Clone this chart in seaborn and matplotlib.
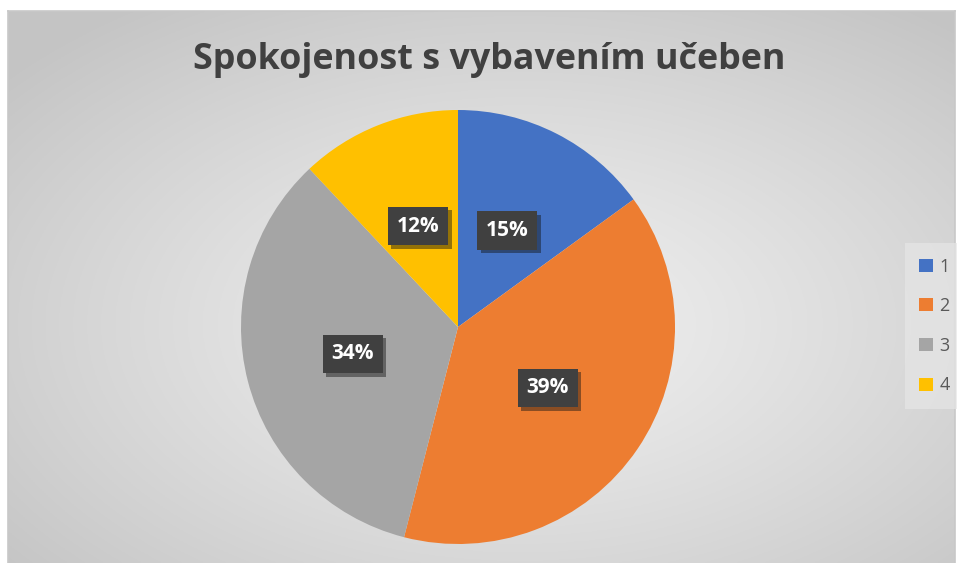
import numpy as np
import matplotlib
matplotlib.use("Agg")
import matplotlib.pyplot as plt
import matplotlib.patheffects as pe
import seaborn as sns

categories = ["1", "2", "3", "4"]
values = [15, 39, 34, 12]
colors = ["#4472C4", "#ED7D31", "#A5A5A5", "#FFC000"]
title = "Spokojenost s vybavením učeben"

sns.set_theme(style="white")
plt.rcParams['font.family'] = ['Open Sans', 'DejaVu Sans']

W, H = 957, 563
fig = plt.figure(figsize=(W / 100, H / 100), dpi=100)
fig.patch.set_facecolor("white")

# background panel with radial gradient
x0, y0, x1, y1 = 8, 11, 955, 563
bg = fig.add_axes([x0 / W, 1 - y1 / H, (x1 - x0) / W, (y1 - y0) / H])
yy, xx = np.mgrid[0:300, 0:500]
cx, cy = 270, 170
d = np.sqrt(((xx - cx) / 250.0) ** 2 + ((yy - cy) / 150.0) ** 2) / np.sqrt(2)
val = 0.94 - 0.17 * np.clip(d, 0, 1) ** 1.2
bg.imshow(np.dstack([val, val, val]), aspect="auto", extent=[0, 1, 0, 1])
bg.set_xticks([]); bg.set_yticks([])
for s in bg.spines.values():
    s.set_color("#c8c8c8"); s.set_linewidth(1.2)
bg.spines["bottom"].set_visible(False)

# pie
pcx, pcy, R = 458, 327, 217
ax = fig.add_axes([(pcx - R) / W, (H - pcy - R) / H, 2 * R / W, 2 * R / H])
ax.set_facecolor("none")
wedges, texts, autotexts = ax.pie(
    values, colors=colors, startangle=90, counterclock=False,
    autopct=lambda p: f"{p:.0f}%", pctdistance=0.5,
    wedgeprops=dict(linewidth=0),
    textprops=dict(color="white", fontsize=15, fontweight="bold"))
ax.set_xlim(-1, 1); ax.set_ylim(-1, 1)
for t in autotexts:
    t.set_bbox(dict(boxstyle="square,pad=0.42", facecolor="#404040", edgecolor="none"))
    t.get_bbox_patch().set_path_effects([pe.SimplePatchShadow(offset=(2.5, -2.5), alpha=0.45), pe.Normal()])

fig.text(489 / W, 1 - 60 / H, title, ha="center", va="center",
         fontsize=25.8, fontweight="bold", color="#404040")

leg = fig.legend(wedges, categories, loc="center left",
                 bbox_to_anchor=(905 / W, 1 - 326 / H), frameon=True,
                 fontsize=13, labelcolor="#595959", handlelength=0.75, handleheight=0.75,
                 handletextpad=0.35, labelspacing=1.2, borderpad=0.8, borderaxespad=0)
leg.get_frame().set_facecolor("#e6e6e6")
leg.get_frame().set_edgecolor("none")
leg.get_frame().set_alpha(0.7)
leg.get_frame().set_boxstyle("square", pad=0)

fig.savefig("out.png", dpi=100)
